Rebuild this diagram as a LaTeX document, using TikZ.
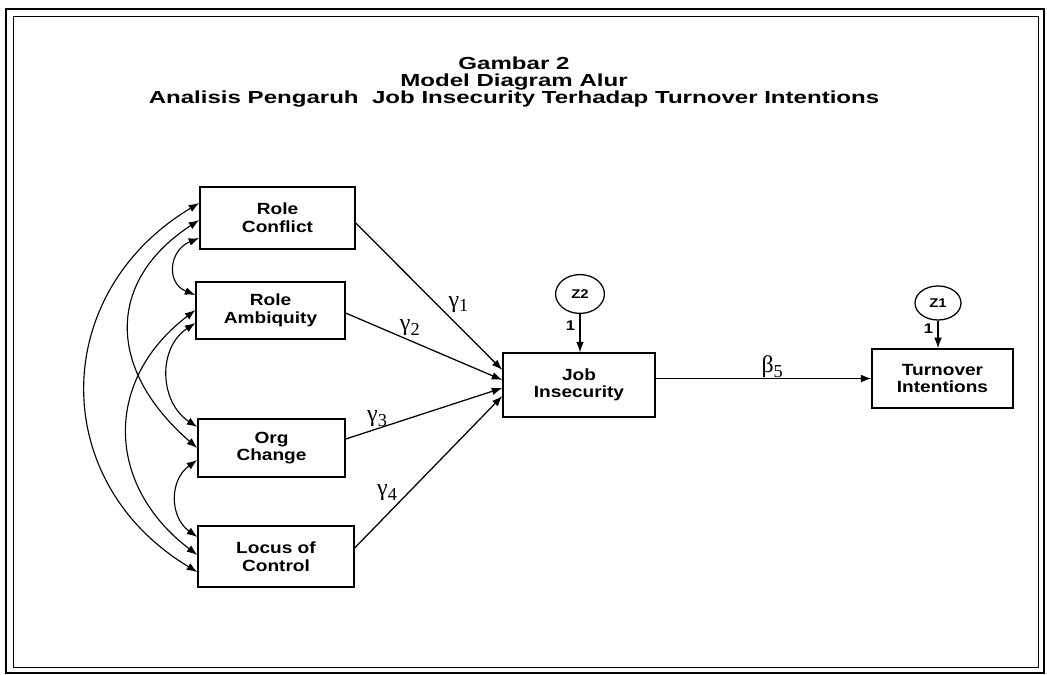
\documentclass[tikz,border=0pt]{standalone}
\usepackage{fontspec}
\setmainfont{Liberation Sans}
\newfontfamily\diagfont[FakeStretch=1.18]{Liberation Sans}
\newfontfamily\titlefont[FakeStretch=1.38]{Liberation Sans}
\newfontfamily\greekfont{Liberation Serif}
\newcommand{\coefsub}[2]{#1\raisebox{-0.45ex}{\fontsize{13}{13}\selectfont #2}}
\usepackage{tikz}
\usetikzlibrary{arrows.meta, positioning, shapes.geometric, calc}

\begin{document}
\begin{tikzpicture}[
  x=0.025cm, y=-0.025cm,
  var/.style={draw, rectangle, line width=0.9pt, align=center, inner sep=0pt,
              font=\diagfont\bfseries\fontsize{11.5}{12.5}\selectfont},
  err/.style={draw, ellipse, line width=0.9pt, inner sep=0pt,
              font=\diagfont\bfseries\fontsize{9}{10}\selectfont},
  arr/.style={-{Latex[length=7.5pt,width=5.5pt]}, line width=0.9pt},
  cov/.style={{Latex[length=7.5pt,width=5.5pt]}-{Latex[length=7.5pt,width=5.5pt]}, line width=0.8pt},
  coef/.style={font=\greekfont\fontsize{17}{17}\selectfont, inner sep=1pt},
  one/.style={font=\diagfont\bfseries\fontsize{10}{10}\selectfont, inner sep=3pt}
]
\useasboundingbox (0,0) rectangle (1047,675);

% frame
\draw[line width=1.4pt] (6,9) rectangle (1044,673);
\draw[line width=0.7pt] (13,16) rectangle (1038,667);

\node[font=\titlefont\bfseries\fontsize{12.4}{12}\selectfont, align=center] (title) at (514,82)
  {Gambar 2\\Model Diagram Alur\\Analisis Pengaruh\ \ Job Insecurity Terhadap Turnover Intentions};

% exogenous variables
\node[var, minimum width=3.88cm, minimum height=1.55cm] (rc) at (277.5,218) {Role\\Conflict};
\node[var, minimum width=3.72cm, minimum height=1.43cm] (ra) at (270.5,310.5) {Role\\Ambiquity};
\node[var, minimum width=3.68cm, minimum height=1.45cm] (oc) at (271.5,448) {Org\\Change};
\node[var, minimum width=3.9cm, minimum height=1.52cm] (lc) at (276,556.5) {Locus of\\Control};

% endogenous variables
\node[var, minimum width=3.8cm, minimum height=1.6cm] (ji) at (579,385) {Job\\Insecurity};
\node[var, minimum width=3.52cm, minimum height=1.48cm] (ti) at (942.5,378.5) {Turnover\\Intentions};

\node[err, minimum width=1.22cm, minimum height=0.97cm] (z2) at (580,294) {Z2};
\node[err, minimum width=1.15cm, minimum height=0.85cm] (z1) at (938,303) {Z1};

\draw[arr] (z2) -- node[one, left, pos=0.3]{1} (z2 |- ji.north);
\draw[arr] (z1) -- node[one, left, pos=0.3]{1} (z1 |- ti.north);

% paths
\draw[arr] ($(rc.east)+(0,5)$) -- node[coef, pos=0.62, above right]{\coefsub{γ}{1}} ($(ji.west)+(0,-15)$);
\draw[arr] ($(ra.east)+(0,2.5)$) -- node[coef, pos=0.41, above, yshift=2pt]{\coefsub{γ}{2}} ($(ji.west)+(0,-5)$);
\draw[arr] ($(oc.east)+(0,-9)$) -- node[coef, pos=0.2, above]{\coefsub{γ}{3}} ($(ji.west)+(0,3)$);
\draw[arr] ($(lc.east)+(0,-8.5)$) -- node[coef, pos=0.3, anchor=south east]{\coefsub{γ}{4}} ($(ji.west)+(0,11)$);
\draw[arr] (ji.east |- ti) -- node[coef, pos=0.54, above, inner sep=0pt]{\coefsub{β}{5}} (ti.west);

% correlations
\draw[cov] ($(rc.west)+(0,20)$) .. controls +(-30,12) and +(-30,-12) .. ($(ra.west)+(0,-15.5)$);
\draw[cov] ($(oc.west)+(0,12)$) .. controls +(-28,20) and +(-28,-20) .. ($(lc.west)+(0,-19.5)$);
\draw[cov] ($(ra.west)+(0,12.5)$) .. controls +(-38,25) and +(-38,-25) .. ($(oc.west)+(0,-21)$);
\draw[cov] ($(rc.west)+(0,2)$) .. controls +(-92,60) and +(-92,-80) .. ($(oc.west)+(0,0)$);
\draw[cov] ($(ra.west)+(0,-0.5)$) .. controls +(-92,70) and +(-92,-70) .. ($(lc.west)+(0,-1.5)$);
\draw[cov] ($(rc.west)+(0,-15)$) .. controls +(-150,90) and +(-150,-90) .. ($(lc.west)+(0,15.5)$);
\end{tikzpicture}
\end{document}
